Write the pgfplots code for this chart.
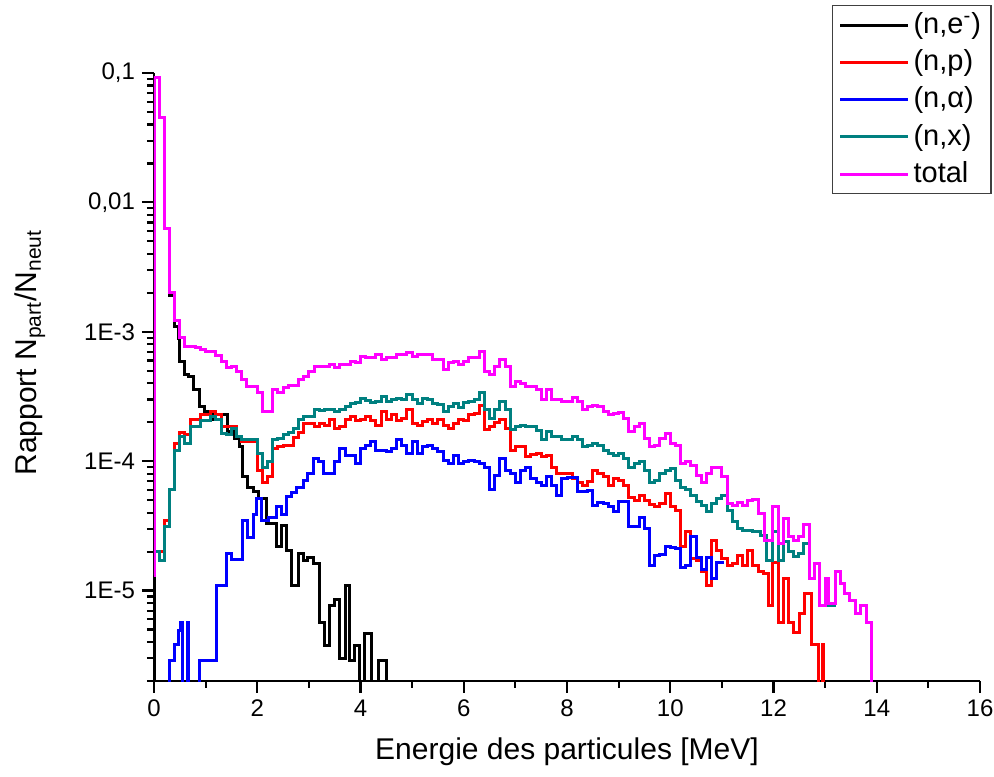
\documentclass[border=0pt]{standalone}
\usepackage{fontspec}
\setmainfont{Liberation Sans}
\usepackage{pgfplots}
\pgfplotsset{compat=1.18}
\definecolor{cteal}{RGB}{0,128,128}
\definecolor{cmag}{RGB}{255,0,255}
\begin{document}
\begin{tikzpicture}
\begin{axis}[
  at={(0pt,0pt)}, anchor=south west,
  width=413pt, height=304pt, scale only axis,
  xmin=0, xmax=16, ymode=log, ymin=2e-6, ymax=0.1,
  axis lines=left, axis line style={-, line width=1.2pt},
  xtick={0,2,4,6,8,10,12,14,16}, xticklabels={0,2,4,6,8,10,12,14,16},
  minor xtick={1,3,5,7,9,11,13,15},
  ytick={1e-5,1e-4,1e-3,1e-2,1e-1},
  yticklabels={1E-5,1E-4,1E-3,{0,01},{0,1}},
  minor ytick={2e-6,3e-6,4e-6,5e-6,6e-6,7e-6,8e-6,9e-6,
               2e-5,3e-5,4e-5,5e-5,6e-5,7e-5,8e-5,9e-5,
               2e-4,3e-4,4e-4,5e-4,6e-4,7e-4,8e-4,9e-4,
               2e-3,3e-3,4e-3,5e-3,6e-3,7e-3,8e-3,9e-3,
               2e-2,3e-2,4e-2,5e-2,6e-2,7e-2,8e-2,9e-2},
  tick align=outside,
  major tick length=6pt, minor tick length=3.5pt,
  every tick/.style={black, line width=1.1pt},
  tick label style={font=\fontsize{12}{14}\selectfont},
  xlabel={Energie des particules [MeV]},
  ylabel={Rapport N\textsubscript{part}/N\textsubscript{neut}},
  label style={font=\fontsize{15}{17}\selectfont},
  xlabel style={at={(axis description cs:0.5,-0.1168)}, anchor=center},
  ylabel style={at={(axis description cs:-0.150,0.54)}, anchor=center},
  legend style={at={(axis description cs:0.8208,1.1118)}, anchor=north west,
    draw=black!75, line width=0.6pt, fill=white,
    font=\fontsize{14.5}{16}\selectfont,
    inner xsep=3pt, inner ysep=0.5pt, row sep=0pt,
    nodes={inner sep=2pt, text height=11.4pt, text depth=3.2pt}},
  legend cell align=left,
  legend image code/.code={\draw[#1, line width=1.5pt] (0pt,0pt) -- (34pt,0pt);},
  every axis plot/.append style={line width=1.5pt, const plot, mark=none},
]
% (n,e-)
\addplot[black] coordinates {
(0,1e-7) (0.01,0.0915) (0.1,0.045) (0.2,0.0063) (0.3,0.0019) (0.4,1.1e-3) (0.47,8.8e-4)
(0.5,5.9e-4) (0.6,4.65e-4) (0.66,4.5e-4) (0.76,3.56e-4) (0.89,2.64e-4) (0.98,2.4e-4)
(1.14,2.09e-4) (1.31,2.28e-4) (1.43,1.69e-4) (1.56,1.5e-4) (1.66,1.29e-4) (1.72,7.55e-5)
(1.82,6.3e-5) (1.92,5.8e-5) (2.02,5.15e-5) (2.18,3.3e-5) (2.37,2.2e-5) (2.47,3.2e-5)
(2.57,2.05e-5) (2.66,1.1e-5) (2.79,1.93e-5) (2.89,1.71e-5) (2.98,1.8e-5) (3.08,1.63e-5)
(3.21,5.7e-6) (3.31,3.76e-6) (3.4,7.66e-6) (3.5,8.6e-6) (3.6,2.96e-6) (3.7,1.1e-5)
(3.79,2.87e-6) (3.89,3.76e-6) (3.99,1e-7) (4.08,4.65e-6) (4.21,1e-7) (4.34,2.87e-6) (4.5,1e-7)
};
\addlegendentry{(n,e\textsuperscript{-})}
% (n,p)
\addplot[red] coordinates {
(0,2.0e-5) (0.2,3.5e-5) (0.3,6.0e-5) (0.4,1.38e-4) (0.5,1.66e-4) (0.6,1.6e-4) (0.7,2.09e-4)
(0.9,2.28e-4) (1.1,2.4e-4) (1.2,2.3e-4) (1.3,1.85e-4) (1.6,1.55e-4) (1.7,1.42e-4) (2.0,8.5e-5)
(2.1,6.9e-5) (2.2,7.55e-5) (2.3,1.26e-4) (2.4,1.29e-4) (2.5,1.33e-4) (2.7,1.52e-4) (2.8,1.66e-4)
(2.9,1.97e-4) (3.1,1.85e-4) (3.2,1.95e-4) (3.3,1.9e-4) (3.4,2.09e-4) (3.5,1.8e-4) (3.6,1.85e-4)
(3.7,2.09e-4) (3.8,2.2e-4) (3.9,2.05e-4) (4.0,2.09e-4) (4.1,2.2e-4) (4.2,2.05e-4) (4.3,1.9e-4)
(4.4,2.42e-4) (4.5,2.09e-4) (4.6,2.28e-4) (4.7,2.05e-4) (4.8,2.15e-4) (4.9,2.49e-4) (5.0,1.97e-4)
(5.1,1.9e-4) (5.2,2.02e-4) (5.3,2.09e-4) (5.4,1.97e-4) (5.5,2.1e-4) (5.6,1.9e-4) (5.7,1.8e-4)
(5.8,1.97e-4) (5.9,2.1e-4) (6.0,2.05e-4) (6.1,2.28e-4) (6.2,2.35e-4) (6.3,2.67e-4) (6.4,1.75e-4)
(6.5,1.85e-4) (6.6,2.0e-4) (6.7,2.09e-4) (6.8,1.8e-4) (6.9,1.2e-4) (7.0,1.29e-4) (7.2,1.08e-4)
(7.3,1.12e-4) (7.4,1.15e-4) (7.5,1.08e-4) (7.6,1.1e-4) (7.7,9.0e-5) (7.8,8.0e-5) (8.1,7.4e-5)
(8.2,6.8e-5) (8.3,6.5e-5) (8.4,7.0e-5) (8.5,8.5e-5) (8.6,8.1e-5) (8.7,7.6e-5) (8.8,6.5e-5)
(8.9,7.4e-5) (9.0,7.1e-5) (9.1,6.5e-5) (9.2,5.2e-5) (9.3,5.0e-5) (9.4,5.46e-5) (9.5,5.0e-5)
(9.6,4.6e-5) (9.7,4.45e-5) (9.8,4.7e-5) (9.9,5.6e-5) (10.0,4.5e-5) (10.1,4.18e-5) (10.2,2.2e-5)
(10.3,2.85e-5) (10.4,1.77e-5) (10.5,1.7e-5) (10.6,1.4e-5) (10.7,1.1e-5) (10.8,2.45e-5)
(10.9,2.05e-5) (11.0,1.77e-5) (11.1,1.57e-5) (11.2,1.63e-5) (11.3,1.87e-5) (11.4,1.56e-5)
(11.5,2.05e-5) (11.6,1.56e-5) (11.7,1.4e-5) (11.8,1.35e-5) (11.9,7.7e-6) (11.98,1.64e-5)
(12.09,5.7e-6) (12.19,1.25e-5) (12.29,5.7e-6) (12.38,4.7e-6) (12.5,6.7e-6) (12.61,9.5e-6)
(12.74,3.8e-6) (12.88,1e-7) (12.95,3.8e-6) (12.97,1e-7)
};
\addlegendentry{(n,p)}
% (n,alpha)
\addplot[blue] coordinates {
(0.2,1e-7) (0.3,2.9e-6) (0.4,3.8e-6) (0.47,4.9e-6) (0.52,5.7e-6) (0.56,1e-7) (0.64,5.7e-6)
(0.67,1e-7) (0.89,2.9e-6) (1.21,1.1e-5) (1.4,1.93e-5) (1.5,1.73e-5) (1.72,3.5e-5) (1.82,2.57e-5)
(1.92,3.9e-5) (1.98,5.15e-5) (2.08,3.5e-5) (2.21,3.7e-5) (2.37,4.45e-5) (2.47,3.9e-5)
(2.57,5.3e-5) (2.66,5.75e-5) (2.76,6.3e-5) (2.89,7.1e-5) (2.98,8.0e-5) (3.08,1.05e-4)
(3.18,1.0e-4) (3.28,8.0e-5) (3.4,8.0e-5) (3.5,9.9e-5) (3.6,1.25e-4) (3.7,1.11e-4) (3.9,9.6e-5)
(4.0,1.25e-4) (4.1,1.33e-4) (4.2,1.41e-4) (4.3,1.22e-4) (4.4,1.2e-4) (4.5,1.18e-4) (4.6,1.25e-4)
(4.7,1.47e-4) (4.8,1.33e-4) (4.9,1.15e-4) (5.0,1.41e-4) (5.1,1.15e-4) (5.2,1.29e-4) (5.3,1.33e-4)
(5.4,1.25e-4) (5.5,1.18e-4) (5.6,1.02e-4) (5.7,9.6e-5) (5.8,1.11e-4) (5.9,9.6e-5) (6.0,9.9e-5)
(6.1,1.02e-4) (6.2,9.9e-5) (6.3,9.6e-5) (6.4,9.0e-5) (6.5,6.0e-5) (6.6,7.8e-5) (6.7,1.05e-4)
(6.8,8.5e-5) (6.9,8.0e-5) (7.0,6.9e-5) (7.1,8.5e-5) (7.2,9.0e-5) (7.3,7.35e-5) (7.4,6.9e-5)
(7.5,6.5e-5) (7.6,7.55e-5) (7.7,6.5e-5) (7.8,5.4e-5) (7.9,7.35e-5) (8.0,7.5e-5) (8.2,5.8e-5)
(8.4,5.9e-5) (8.5,4.56e-5) (8.6,4.8e-5) (8.7,4.7e-5) (8.8,4.45e-5) (8.9,4.07e-5) (9.0,4.85e-5)
(9.2,3.1e-5) (9.4,3.7e-5) (9.5,3.0e-5) (9.6,1.56e-5) (9.7,1.87e-5) (9.8,1.9e-5) (9.9,2.2e-5)
(10.0,2.15e-5) (10.1,2.1e-5) (10.2,1.5e-5) (10.3,1.56e-5) (10.4,2.6e-5) (10.5,1.8e-5)
(10.6,1.45e-5) (10.7,1.8e-5) (10.8,1.25e-5) (10.9,1.65e-5) (11.05,1.65e-5)
};
\addlegendentry{(n,α)}
% (n,x)
\addplot[cteal] coordinates {
(0,2.0e-5) (0.1,1.71e-5) (0.2,3.1e-5) (0.3,6.0e-5) (0.4,1.22e-4) (0.5,1.55e-4) (0.6,1.38e-4)
(0.7,1.85e-4) (0.9,2.05e-4) (1.1,2.2e-4) (1.2,2.09e-4) (1.3,1.65e-4) (1.4,1.6e-4) (1.5,1.8e-4)
(1.6,1.55e-4) (1.7,1.46e-4) (2.0,1.15e-4) (2.1,9.0e-5) (2.2,9.9e-5) (2.3,1.46e-4) (2.4,1.5e-4)
(2.5,1.6e-4) (2.6,1.66e-4) (2.7,1.8e-4) (2.8,2.09e-4) (2.9,2.2e-4) (3.1,2.49e-4) (3.2,2.45e-4)
(3.3,2.5e-4) (3.4,2.52e-4) (3.5,2.42e-4) (3.6,2.52e-4) (3.7,2.64e-4) (3.8,2.77e-4) (3.9,2.84e-4)
(4.0,3.07e-4) (4.1,2.95e-4) (4.2,2.84e-4) (4.3,2.9e-4) (4.4,3.15e-4) (4.5,2.9e-4) (4.6,2.98e-4)
(4.7,3.07e-4) (4.8,2.98e-4) (4.9,3.26e-4) (5.0,2.98e-4) (5.1,2.8e-4) (5.2,3.07e-4) (5.3,2.98e-4)
(5.4,2.8e-4) (5.5,2.72e-4) (5.6,2.42e-4) (5.7,2.64e-4) (5.8,2.8e-4) (5.9,2.6e-4) (6.0,2.84e-4)
(6.1,2.9e-4) (6.2,2.98e-4) (6.3,3.4e-4) (6.4,2.49e-4) (6.5,2.15e-4) (6.6,2.49e-4) (6.7,2.9e-4)
(6.8,2.49e-4) (6.9,1.77e-4) (7.0,1.85e-4) (7.1,1.9e-4) (7.2,1.85e-4) (7.4,1.73e-4) (7.5,1.46e-4)
(7.6,1.7e-4) (7.7,1.55e-4) (7.9,1.48e-4) (8.0,1.46e-4) (8.1,1.54e-4) (8.2,1.46e-4) (8.3,1.29e-4)
(8.4,1.33e-4) (8.5,1.37e-4) (8.6,1.33e-4) (8.7,1.22e-4) (8.8,1.15e-4) (8.9,1.11e-4) (9.0,1.15e-4)
(9.1,1.05e-4) (9.2,9.0e-5) (9.3,9.6e-5) (9.4,9.9e-5) (9.5,8.5e-5) (9.6,6.9e-5) (9.7,7.1e-5)
(9.8,8.0e-5) (9.9,8.5e-5) (10.0,8.8e-5) (10.1,7.1e-5) (10.2,6.3e-5) (10.3,6.0e-5) (10.4,5.46e-5)
(10.5,4.85e-5) (10.6,4.56e-5) (10.7,4.07e-5) (10.8,4.7e-5) (10.9,5.15e-5) (11.0,5.46e-5)
(11.1,4.18e-5) (11.2,3.4e-5) (11.3,3.0e-5) (11.4,2.93e-5) (11.6,2.85e-5) (11.74,2.67e-5)
(11.87,1.71e-5) (11.98,2.85e-5) (12.09,1.71e-5) (12.19,2.4e-5) (12.29,2.0e-5) (12.38,1.82e-5)
(12.48,1.93e-5) (12.58,2.3e-5) (12.69,1.24e-5) (12.8,1.63e-5) (12.9,7.66e-6) (13.0,1.25e-5)
(13.06,7.66e-6) (13.21,7.66e-6)
};
\addlegendentry{(n,x)}
% total
\addplot[cmag] coordinates {
(0,1.3e-5) (0.01,0.0915) (0.1,0.045) (0.2,0.0063) (0.3,0.0020) (0.4,0.00122) (0.5,9.1e-4)
(0.6,7.7e-4) (0.8,7.5e-4) (0.9,7.3e-4) (1.0,7.0e-4) (1.2,6.6e-4) (1.3,5.9e-4) (1.4,5.3e-4)
(1.5,5.4e-4) (1.6,4.9e-4) (1.7,4.25e-4) (1.8,3.8e-4) (1.9,3.75e-4) (2.0,3.4e-4) (2.1,2.4e-4)
(2.3,3.56e-4) (2.4,3.37e-4) (2.5,3.7e-4) (2.6,3.85e-4) (2.8,4.25e-4) (2.9,4.5e-4) (3.0,4.9e-4)
(3.1,5.4e-4) (3.4,5.56e-4) (3.5,5.27e-4) (3.6,5.56e-4) (3.8,5.86e-4) (3.9,5.76e-4) (4.0,6.4e-4)
(4.1,6.3e-4) (4.3,6.64e-4) (4.4,6.07e-4) (4.5,6.3e-4) (4.7,6.64e-4) (4.9,6.9e-4) (5.0,6.45e-4)
(5.1,6.64e-4) (5.4,6.07e-4) (5.6,5.08e-4) (5.7,5.76e-4) (5.8,5.9e-4) (5.9,5.56e-4) (6.0,5.9e-4)
(6.1,6.3e-4) (6.3,7.04e-4) (6.4,4.9e-4) (6.5,4.65e-4) (6.6,5.4e-4) (6.7,6.07e-4) (6.8,5.4e-4)
(6.9,3.78e-4) (7.0,4.1e-4) (7.1,4.0e-4) (7.2,3.78e-4) (7.4,3.56e-4) (7.5,2.98e-4) (7.6,3.56e-4)
(7.7,2.98e-4) (7.9,2.9e-4) (8.1,3.08e-4) (8.2,2.9e-4) (8.3,2.49e-4) (8.4,2.64e-4) (8.5,2.67e-4)
(8.6,2.64e-4) (8.7,2.42e-4) (8.8,2.28e-4) (8.9,2.35e-4) (9.0,2.38e-4) (9.1,2.15e-4) (9.2,1.7e-4)
(9.3,1.85e-4) (9.4,1.94e-4) (9.5,1.5e-4) (9.6,1.31e-4) (9.7,1.33e-4) (9.8,1.5e-4) (9.9,1.64e-4)
(10.0,1.38e-4) (10.1,1.33e-4) (10.2,9.6e-5) (10.3,9.9e-5) (10.4,9.3e-5) (10.5,7.8e-5)
(10.6,6.9e-5) (10.7,8.0e-5) (10.8,9.0e-5) (11.0,7.55e-5) (11.1,4.7e-5) (11.2,4.56e-5)
(11.3,4.8e-5) (11.4,4.56e-5) (11.5,5.0e-5) (11.6,5.1e-5) (11.7,3.95e-5) (11.83,2.45e-5)
(11.98,4.5e-5) (12.09,2.3e-5) (12.19,3.6e-5) (12.29,2.6e-5) (12.38,2.45e-5) (12.48,2.6e-5)
(12.58,3.25e-5) (12.69,1.24e-5) (12.8,1.63e-5) (12.9,7.66e-6) (13.0,1.25e-5) (13.06,8.0e-6)
(13.21,1.4e-5) (13.29,1.13e-5) (13.38,9.5e-6) (13.48,8.4e-6) (13.58,6.6e-6) (13.68,7.66e-6)
(13.81,5.66e-6) (13.9,1e-7)
};
\addlegendentry{total}
\end{axis}
\pgfresetboundingbox
\path[use as bounding box] (-77pt,-47.5pt) rectangle (420pt,340.5pt);
\end{tikzpicture}
\end{document}
